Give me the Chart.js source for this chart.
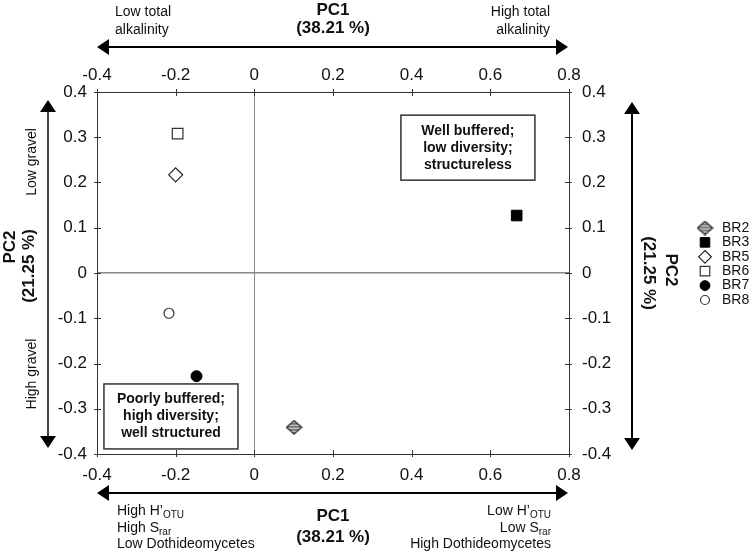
<!DOCTYPE html>
<html>
<head>
<meta charset="utf-8">
<script src="https://cdn.jsdelivr.net/npm/chart.js@4.4.0/dist/chart.umd.min.js"></script>
<style>
  body { margin: 0; background: #fff; }
  #wrap { width: 750px; height: 553px; }
</style>
</head>
<body>
<div id="wrap"><canvas id="pcaChart"></canvas></div>
<script>
// PCA site scores
const sites     = ["BR2", "BR3", "BR5", "BR6", "BR7", "BR8"];
const pc1Scores = [0.101, 0.667, -0.200, -0.195, -0.147, -0.217];
const pc2Scores = [-0.341, 0.127, 0.217, 0.308, -0.228, -0.089];
const pc1Range  = [-0.4, 0.8];
const pc2Range  = [-0.4, 0.4];
const pc1Title  = ["PC1", "(38.21 %)"];
const pc2Title  = ["PC2", "(21.25 %)"];

const FONT = "'Liberation Sans', Arial, sans-serif";
const INK = "#111";

// gray diamond with horizontal stripes (BR2)
function hatchedDiamond() {
  const c = document.createElement("canvas");
  c.width = 17; c.height = 15;
  const g = c.getContext("2d");
  const outline = () => {
    g.beginPath();
    g.moveTo(8.5, 0.8); g.lineTo(16.2, 7.5); g.lineTo(8.5, 14.2); g.lineTo(0.8, 7.5);
    g.closePath();
  };
  outline();
  g.fillStyle = "#7a7a7a";
  g.fill();
  g.save();
  g.clip();
  g.strokeStyle = "#d4d4d4";
  g.lineWidth = 1;
  for (let y = 2.5; y < 15; y += 3) {
    g.beginPath(); g.moveTo(0, y); g.lineTo(17, y); g.stroke();
  }
  g.restore();
  outline();
  g.strokeStyle = "#222";
  g.lineWidth = 1.2;
  g.stroke();
  return c;
}

const markers = [
  { pointStyle: hatchedDiamond(), radius: 8, bg: "#7a7a7a", border: "#222", bw: 1 },
  { pointStyle: "rect",    radius: 7.5, bg: "#000", border: "#000", bw: 1 },
  { pointStyle: "rectRot", radius: 7,   bg: "#fff", border: "#222", bw: 1.2 },
  { pointStyle: "rect",    radius: 7.5, bg: "#fff", border: "#333", bw: 1.2 },
  { pointStyle: "circle",  radius: 5.5, bg: "#000", border: "#000", bw: 1 },
  { pointStyle: "circle",  radius: 5,   bg: "#fff", border: "#333", bw: 1.2 }
];

// text boxes placed in data units (box centre)
const quadrantNotes = [
  { x: 0.543, y: 0.277, lines: ["Well buffered;", "low diversity;", "structureless"] },
  { x: -0.212, y: -0.317, lines: ["Poorly buffered;", "high diversity;", "well structured"] }
];

const datasets = sites.map((name, i) => ({
  label: name,
  data: [{ x: pc1Scores[i], y: pc2Scores[i] }],
  pointStyle: markers[i].pointStyle,
  pointRadius: markers[i].radius,
  backgroundColor: markers[i].bg,
  borderColor: markers[i].border,
  borderWidth: markers[i].bw
}));

function fmt(v) { return Number(v.toFixed(1)).toString(); }

function zeroGrid(ctx) {
  return ctx.tick && Math.abs(ctx.tick.value) < 1e-9 ? "#8a8a8a" : "rgba(0,0,0,0)";
}

function axis(position, range, step, extra) {
  return Object.assign({
    type: "linear",
    position: position,
    min: range[0],
    max: range[1],
    border: { display: true, color: "#333", width: 1 },
    grid: { drawTicks: false, drawOnChartArea: false },
    ticks: {
      stepSize: step,
      color: INK,
      font: { family: FONT, size: 17 },
      maxRotation: 0,
      autoSkip: false,
      callback: v => fmt(v)
    }
  }, extra);
}

function arrowHead(ctx, x, y, dir) {
  // dir: "left", "right", "up", "down"; (x,y) is the tip
  const L = 12, H = 8;
  ctx.beginPath();
  ctx.moveTo(x, y);
  if (dir === "left")  { ctx.lineTo(x + L, y - H); ctx.lineTo(x + L, y + H); }
  if (dir === "right") { ctx.lineTo(x - L, y - H); ctx.lineTo(x - L, y + H); }
  if (dir === "up")    { ctx.lineTo(x - H, y + L); ctx.lineTo(x + H, y + L); }
  if (dir === "down")  { ctx.lineTo(x - H, y - L); ctx.lineTo(x + H, y - L); }
  ctx.closePath();
  ctx.fill();
}

function doubleArrowH(ctx, x1, x2, y) {
  ctx.beginPath(); ctx.moveTo(x1 + 8, y); ctx.lineTo(x2 - 8, y); ctx.stroke();
  arrowHead(ctx, x1, y, "left");
  arrowHead(ctx, x2, y, "right");
}

function doubleArrowV(ctx, x, y1, y2) {
  ctx.beginPath(); ctx.moveTo(x, y1 + 8); ctx.lineTo(x, y2 - 8); ctx.stroke();
  arrowHead(ctx, x, y1, "up");
  arrowHead(ctx, x, y2, "down");
}

// text with subscripts: parts = [[text, isSub], ...]
function rich(ctx, parts, x, y, align) {
  const body = "14px " + FONT, sub = "10px " + FONT;
  let w = 0;
  parts.forEach(p => { ctx.font = p[1] ? sub : body; w += ctx.measureText(p[0]).width; });
  let cx = align === "right" ? x - w : x;
  ctx.textAlign = "left";
  parts.forEach(p => {
    ctx.font = p[1] ? sub : body;
    ctx.fillText(p[0], cx, p[1] ? y + 4 : y);
    cx += ctx.measureText(p[0]).width;
  });
}

function rotatedText(ctx, text, x, y, angle, font) {
  ctx.save();
  ctx.translate(x, y);
  ctx.rotate(angle);
  ctx.font = font;
  ctx.textAlign = "center";
  ctx.fillText(text, 0, 0);
  ctx.restore();
}

const decorations = {
  id: "decorations",
  beforeDatasetsDraw(chart) {
    const ctx = chart.ctx;
    const { x, y } = chart.scales;
    ctx.save();
    ctx.strokeStyle = "#333";
    ctx.lineWidth = 1;
    // small ticks crossing each axis line
    x.ticks.forEach(t => {
      const px = Math.round(x.getPixelForValue(t.value)) + 0.5;
      ctx.beginPath(); ctx.moveTo(px, y.bottom + 3); ctx.lineTo(px, y.bottom - 4); ctx.stroke();
      ctx.beginPath(); ctx.moveTo(px, y.top - 3); ctx.lineTo(px, y.top + 4); ctx.stroke();
    });
    y.ticks.forEach(t => {
      const py = Math.round(y.getPixelForValue(t.value)) + 0.5;
      ctx.beginPath(); ctx.moveTo(x.left - 3, py); ctx.lineTo(x.left + 4, py); ctx.stroke();
      ctx.beginPath(); ctx.moveTo(x.right + 3, py); ctx.lineTo(x.right - 4, py); ctx.stroke();
    });
    ctx.restore();
  },
  afterDatasetsDraw(chart) {
    const ctx = chart.ctx;
    const { x, y } = chart.scales;
    ctx.save();
    ctx.textBaseline = "middle";
    quadrantNotes.forEach(n => {
      const cx = x.getPixelForValue(n.x), cy = y.getPixelForValue(n.y);
      const w = 134, h = 65;
      ctx.fillStyle = "#fff";
      ctx.fillRect(cx - w / 2, cy - h / 2, w, h);
      ctx.strokeStyle = "#333";
      ctx.lineWidth = 1.5;
      ctx.strokeRect(cx - w / 2, cy - h / 2, w, h);
      ctx.fillStyle = INK;
      ctx.font = "bold 14px " + FONT;
      ctx.textAlign = "center";
      n.lines.forEach((l, i) => ctx.fillText(l, cx, cy + (i - 1) * 17));
    });
    ctx.restore();
  },
  afterDraw(chart) {
    const ctx = chart.ctx;
    const a = chart.chartArea;
    const midX = (a.left + a.right) / 2;
    ctx.save();
    ctx.fillStyle = "#000";
    ctx.strokeStyle = "#000";
    ctx.lineWidth = 2;
    doubleArrowH(ctx, a.left, a.right - 1, 47);
    doubleArrowH(ctx, a.left, a.right - 1, 493);
    ctx.strokeStyle = "#444";
    doubleArrowV(ctx, 48, 100, 448);
    ctx.strokeStyle = "#000";
    doubleArrowV(ctx, 632, 102, 450);

    ctx.fillStyle = INK;
    ctx.textBaseline = "middle";
    // axis titles
    ctx.font = "bold 17px " + FONT;
    ctx.textAlign = "center";
    ctx.fillText(pc1Title[0], midX, 10);
    ctx.fillText(pc1Title[1], midX, 28);
    ctx.fillText(pc1Title[0], midX, 516);
    ctx.fillText(pc1Title[1], midX, 537);
    rotatedText(ctx, pc2Title[0], 10, 247, -Math.PI / 2, "bold 17px " + FONT);
    rotatedText(ctx, pc2Title[1], 29, 266, -Math.PI / 2, "bold 17px " + FONT);
    rotatedText(ctx, pc2Title[0], 671, 270, Math.PI / 2, "bold 17px " + FONT);
    rotatedText(ctx, pc2Title[1], 649, 273, Math.PI / 2, "bold 17px " + FONT);

    // gradient descriptions
    ctx.font = "14px " + FONT;
    ctx.textAlign = "left";
    ctx.fillText("Low total", 115, 12);
    ctx.fillText("alkalinity", 115, 30);
    ctx.textAlign = "right";
    ctx.fillText("High total", 550, 12);
    ctx.fillText("alkalinity", 550, 30);
    rotatedText(ctx, "Low gravel", 32, 162, -Math.PI / 2, "14px " + FONT);
    rotatedText(ctx, "High gravel", 32, 374, -Math.PI / 2, "14px " + FONT);

    rich(ctx, [["High H\u2019", false], ["OTU", true]], 117, 511, "left");
    rich(ctx, [["High S", false], ["rar", true]], 117, 528, "left");
    rich(ctx, [["Low Dothideomycetes", false]], 117, 544, "left");
    rich(ctx, [["Low H\u2019", false], ["OTU", true]], 551, 511, "right");
    rich(ctx, [["Low S", false], ["rar", true]], 551, 528, "right");
    rich(ctx, [["High Dothideomycetes", false]], 551, 544, "right");

    // legend
    const H = Chart.helpers;
    chart.data.datasets.forEach((ds, i) => {
      const ly = 228 + i * 14.4;
      ctx.save();
      ctx.fillStyle = ds.backgroundColor;
      ctx.strokeStyle = ds.borderColor;
      ctx.lineWidth = ds.borderWidth;
      H.drawPoint(ctx, { pointStyle: ds.pointStyle, radius: ds.pointRadius * 0.9, rotation: 0, borderWidth: ds.borderWidth }, 705, ly);
      ctx.restore();
      ctx.fillStyle = INK;
      ctx.font = "14px " + FONT;
      ctx.textAlign = "left";
      ctx.fillText(ds.label, 722, ly);
    });
    ctx.restore();
  }
};

new Chart(document.getElementById("pcaChart"), {
  type: "scatter",
  data: { datasets: datasets },
  options: {
    responsive: true,
    maintainAspectRatio: false,
    animation: false,
    layout: { padding: 0 },
    plugins: {
      legend: { display: false },
      tooltip: { enabled: false }
    },
    scales: {
      x: axis("bottom", pc1Range, 0.2, {
        grid: { drawTicks: false, drawOnChartArea: true, color: zeroGrid, lineWidth: 1 },
        afterFit: s => { s.height = 99; }
      }),
      x2: axis("top", pc1Range, 0.2, { afterFit: s => { s.height = 92; } }),
      y: axis("left", pc2Range, 0.1, {
        grid: { drawTicks: false, drawOnChartArea: true, color: zeroGrid, lineWidth: 1.5 },
        afterFit: s => { s.width = 97; }
      }),
      y2: axis("right", pc2Range, 0.1, { afterFit: s => { s.width = 181; } })
    }
  },
  plugins: [decorations]
});

// tick label spacing per side
const ch = Chart.getChart("pcaChart");
ch.options.scales.x.ticks.padding = 11;
ch.options.scales.x2.ticks.padding = 6;
ch.options.scales.y.ticks.padding = 10;
ch.options.scales.y2.ticks.padding = 13;
ch.update();
</script>
</body>
</html>
